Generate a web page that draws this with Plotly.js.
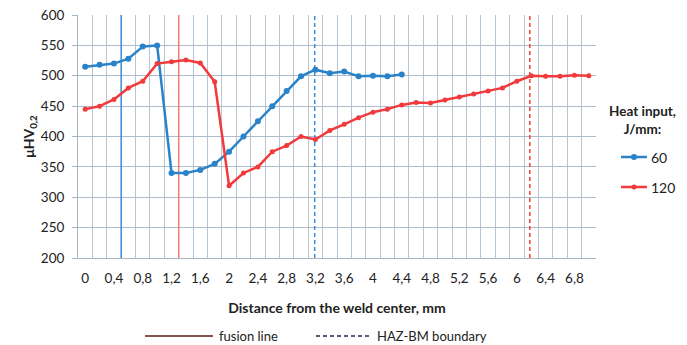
<!DOCTYPE html>
<html><head><meta charset="utf-8">
<script src="https://cdn.plot.ly/plotly-3.0.1.min.js"></script>
<style>body{margin:0;background:#fff}#c{width:687px;height:345px}</style>
</head><body><div id="c"></div>
<script>
var xs60 = [0,0.2,0.4,0.6,0.8,1.0,1.2,1.4,1.6,1.8,2.0,2.2,2.4,2.6,2.8,3.0,3.2,3.4,3.6,3.8,4.0,4.2,4.4];
var hv60 = [515,518,520,528,548,550,340,340,345,355,375,400,425,450,475,499,510,504,507,499,500,499,502];
var xs120 = [0,0.2,0.4,0.6,0.8,1.0,1.2,1.4,1.6,1.8,2.0,2.2,2.4,2.6,2.8,3.0,3.2,3.4,3.6,3.8,4.0,4.2,4.4,4.6,4.8,5.0,5.2,5.4,5.6,5.8,6.0,6.2,6.4,6.6,6.8,7.0];
var hv120 = [445,450,461,480,491,520,523,526,521,490,319,340,350,375,385,400,395,410,420,431,440,445,452,456,455,460,465,470,475,480,491,500,499,499,501,500];
var fusion60 = 0.5, fusion120 = 1.3, hazbm60 = 3.19, hazbm120 = 6.18;
var tickVals = [0,0.4,0.8,1.2,1.6,2,2.4,2.8,3.2,3.6,4,4.4,4.8,5.2,5.6,6,6.4,6.8];
var tickText = ['0','0,4','0,8','1,2','1,6','2','2,4','2,8','3,2','3,6','4','4,4','4,8','5,2','5,6','6','6,4','6,8'];
var yTicks = [200,250,300,350,400,450,500,550,600];
var seriesNames = ['60', '120'];
var legendTitle = '<b>Heat input,<br>J/mm:</b>';

var blue = '#2A83C9', red = '#F2393B';
var colors = [blue, red];
var font = 'Lato, "Open Sans", sans-serif';
var L = 78, R = 596, T = 15, B = 258;
var traces = [
  {x: xs60, y: hv60, name: seriesNames[0], mode: 'lines+markers', line: {color: blue, width: 2.5}, marker: {color: blue, size: 6}},
  {x: xs120, y: hv120, name: seriesNames[1], mode: 'lines+markers', line: {color: red, width: 2.5}, marker: {color: red, size: 5}}
];
function px(x) { return (x - L) / (R - L); }
function py(y) { return (B - y) / (B - T); }
function vline(x, color, dash) {
  return {type: 'line', xref: 'x', yref: 'y', x0: x, x1: x, y0: 200, y1: 600, line: {color: color, width: 1.5, dash: dash}, layer: 'between'};
}
var legY = py(336);
var shapes = [
  vline(fusion60, '#3F8ED5', 'solid'), vline(fusion120, '#F47A72', 'solid'),
  vline(hazbm60, '#3F8ED5', '4px,3px'), vline(hazbm120, '#F0403C', '4px,3px'),
  {type: 'line', xref: 'paper', yref: 'paper', x0: px(145), x1: px(213), y0: legY, y1: legY, line: {color: '#5A1A10', width: 1.3}},
  {type: 'line', xref: 'paper', yref: 'paper', x0: px(316), x1: px(371), y0: legY, y1: legY, line: {color: '#1E2C4C', width: 1.3, dash: '4px,3px'}}
];
var annotations = [
  {text: 'fusion line', xref: 'paper', yref: 'paper', x: px(217), y: legY, xanchor: 'left', yanchor: 'middle', showarrow: false, font: {family: font, size: 13, color: '#222'}},
  {text: 'HAZ-BM boundary', xref: 'paper', yref: 'paper', x: px(375), y: legY, xanchor: 'left', yanchor: 'middle', showarrow: false, font: {family: font, size: 13, color: '#222'}},
  {text: legendTitle, xref: 'paper', yref: 'paper', x: px(642), y: py(120), xanchor: 'center', yanchor: 'middle', showarrow: false, font: {family: font, size: 13.5, color: '#222'}}
];
var entryY = [157, 187];
var markerR = [3, 2.5];
for (var i = 0; i < seriesNames.length; i++) {
  shapes.push({type: 'line', xref: 'paper', yref: 'paper', x0: px(621), x1: px(647), y0: py(entryY[i]), y1: py(entryY[i]), line: {color: colors[i], width: 2.5}});
  shapes.push({type: 'circle', xref: 'paper', yref: 'paper', x0: px(634 - markerR[i]), x1: px(634 + markerR[i]), y0: py(entryY[i] + markerR[i]), y1: py(entryY[i] - markerR[i]), fillcolor: colors[i], line: {width: 0}});
  annotations.push({text: seriesNames[i], xref: 'paper', yref: 'paper', x: px(649), y: py(entryY[i]), xanchor: 'left', yanchor: 'middle', showarrow: false, font: {family: font, size: 14, color: '#222'}});
}
var layout = {
  width: 687, height: 345,
  margin: {l: L, r: 687 - R, t: T, b: 345 - B},
  paper_bgcolor: '#fff', plot_bgcolor: '#fff',
  font: {family: font, size: 13, color: '#222'},
  showlegend: false,
  xaxis: {range: [-0.1, 7.1], tickmode: 'array', tickvals: tickVals, ticktext: tickText, showgrid: false, zeroline: false,
    ticks: '', ticklabelstandoff: 8, tickfont: {family: font, size: 13.5, color: '#222'}, showline: true, linecolor: '#A9B6C4', linewidth: 1,
    minor: {tickmode: 'linear', tick0: -0.1, dtick: 0.2, showgrid: true, gridcolor: '#B9C5D2', gridwidth: 1, ticks: ''},
    title: {text: '<b>Distance from the weld center, mm</b>', font: {family: font, size: 14, color: '#222'}, standoff: 17}},
  yaxis: {range: [200, 600], tickmode: 'array', tickvals: yTicks, showgrid: true, gridcolor: '#AEBBCA', zeroline: false,
    showline: true, linecolor: '#A9B6C4', ticks: 'outside', ticklen: 5, tickcolor: '#A9B6C4', ticklabelstandoff: 5,
    tickfont: {family: font, size: 13.5, color: '#222'},
    title: {text: '<b>μHV<sub>0,2</sub></b>', font: {family: font, size: 14, color: '#222'}, standoff: 2}},
  shapes: shapes, annotations: annotations
};
Plotly.newPlot('c', traces, layout, {staticPlot: true, displayModeBar: false});
</script></body></html>
